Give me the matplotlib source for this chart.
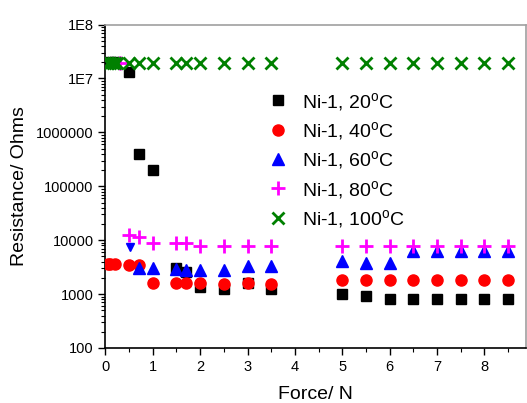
import matplotlib

matplotlib.use("Agg")
import matplotlib.pyplot as plt
import matplotlib.ticker as mtick

plt.rcParams["font.family"] = ["Liberation Sans", "DejaVu Sans"]
plt.rcParams["mathtext.fontset"] = "custom"
plt.rcParams["mathtext.rm"] = "Liberation Sans"
plt.rcParams["mathtext.it"] = "Liberation Sans"

# Resistance (Ohms) vs applied force (N), sample Ni-1
force_20 = [0.1, 0.2, 0.5, 0.7, 1.0, 1.5, 1.7, 2.0, 2.5, 3.0, 3.5,
            5.0, 5.5, 6.0, 6.5, 7.0, 7.5, 8.0, 8.5]
res_20 = [2.0e7, 2.0e7, 1.3e7, 4.0e5, 2.0e5, 3000, 2600, 1350, 1250, 1600, 1250,
          1000, 920, 800, 800, 800, 800, 800, 800]

force_40 = [0.05, 0.1, 0.2, 0.5, 0.7, 1.0, 1.5, 1.7, 2.0, 2.5, 3.0, 3.5,
            5.0, 5.5, 6.0, 6.5, 7.0, 7.5, 8.0, 8.5]
res_40 = [3550, 3550, 3550, 3500, 3500, 1580, 1580, 1580, 1580, 1560, 1600, 1520,
          1800, 1800, 1800, 1800, 1800, 1800, 1800, 1800]

force_60 = [0.7, 1.0, 1.5, 1.7, 2.0, 2.5, 3.0, 3.5,
            5.0, 5.5, 6.0, 6.5, 7.0, 7.5, 8.0, 8.5]
res_60 = [3100, 3100, 2870, 2750, 2800, 2800, 3300, 3300,
          4100, 3800, 3800, 6300, 6300, 6300, 6300, 6300]
# lone point at 0.5 N drawn as a down triangle in the original
force_60_low = [0.52]
res_60_low = [7600]

force_80 = [0.3, 0.5, 0.7, 1.0, 1.5, 1.7, 2.0, 2.5, 3.0, 3.5,
            5.0, 5.5, 6.0, 6.5, 7.0, 7.5, 8.0, 8.5]
res_80 = [1.9e7, 12300, 11500, 8900, 9000, 9000, 7800, 7800, 7800, 7800,
          7800, 7800, 7800, 7800, 7800, 7800, 7800, 7800]

force_100 = [0.05, 0.1, 0.15, 0.2, 0.25, 0.5, 0.7, 1.0, 1.5, 1.7, 2.0, 2.5, 3.0, 3.5,
             5.0, 5.5, 6.0, 6.5, 7.0, 7.5, 8.0, 8.5]
res_100 = [1.9e7] * len(force_100)

labels = [r"Ni-1, 20$^\mathrm{o}$C", r"Ni-1, 40$^\mathrm{o}$C", r"Ni-1, 60$^\mathrm{o}$C",
          r"Ni-1, 80$^\mathrm{o}$C", r"Ni-1, 100$^\mathrm{o}$C"]
ytick_values = [1e2, 1e3, 1e4, 1e5, 1e6, 1e7, 1e8]
ytick_labels = ["100", "1000", "10000", "100000", "1000000", "1E7", "1E8"]

fig = plt.figure(figsize=(5.27, 4.03), dpi=100)
ax = fig.add_axes([0.2, 0.1365, 0.7975, 0.8025])

ax.plot(force_20, res_20, "s", color="black", markersize=7, label=labels[0], zorder=3)
ax.plot(force_40, res_40, "o", color="#ff0000", markersize=8, label=labels[1], zorder=3)
ax.plot(force_60, res_60, "^", color="#0000ff", markersize=8.5, label=labels[2], zorder=4)
ax.plot(force_60_low, res_60_low, "v", color="#0000ff", markersize=6, zorder=4)
ax.plot(force_80, res_80, "+", color="#ff00ff", markersize=10, markeredgewidth=2,
        label=labels[3], zorder=5)
ax.plot(force_100, res_100, "x", color="#008000", markersize=9, markeredgewidth=2,
        label=labels[4], zorder=6)

ax.set_yscale("log")
ax.set_ylim(100, 1e8)
ax.set_xlim(0, 8.87)
ax.yaxis.set_major_locator(mtick.FixedLocator(ytick_values))
ax.yaxis.set_major_formatter(mtick.FixedFormatter(ytick_labels))
ax.yaxis.set_minor_locator(mtick.LogLocator(base=10, subs=range(2, 10), numticks=20))
ax.yaxis.set_minor_formatter(mtick.NullFormatter())
ax.xaxis.set_major_locator(mtick.MultipleLocator(1))
ax.xaxis.set_minor_locator(mtick.MultipleLocator(0.5))

ax.tick_params(which="major", direction="out", length=5, width=1, labelsize=10.5,
               top=False, right=False)
ax.tick_params(which="minor", direction="out", length=3, width=0.8,
               top=False, right=False)
for side in ["left", "bottom"]:
    ax.spines[side].set_linewidth(1.2)
for side in ["top", "right"]:
    ax.spines[side].set_color("#a0a0a0")
    ax.spines[side].set_linewidth(1.2)

ax.set_xlabel("Force/ N", fontsize=14, labelpad=9)
ax.set_ylabel("Resistance/ Ohms", fontsize=14, labelpad=6)

ax.legend(loc="upper left", bbox_to_anchor=(0.37, 0.82), frameon=False, fontsize=14,
          handlelength=1.0, handletextpad=0.7, labelspacing=0.38, borderaxespad=0)

fig.savefig("out.png", dpi=100)
